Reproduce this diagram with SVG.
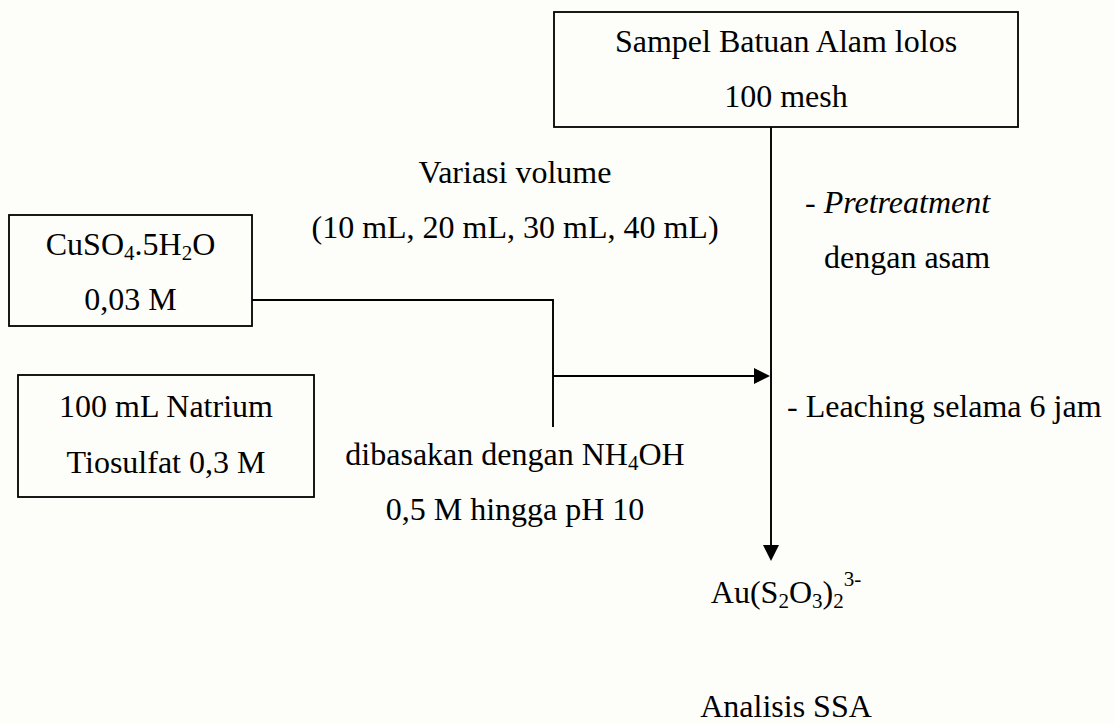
<svg xmlns="http://www.w3.org/2000/svg" width="1114" height="724" viewBox="0 0 1114 724">
  <defs>
    <style>
      .box { fill: none; stroke: #000; stroke-width: 1.8; }
      .conn { fill: none; stroke: #000; stroke-width: 1.9; }
      text { font-family: "Liberation Serif", "Times New Roman", serif; font-size: 32px; fill: #000; }
      .mid { text-anchor: middle; }
    </style>
    <marker id="arrow" markerUnits="userSpaceOnUse" markerWidth="16" markerHeight="16" refX="8" refY="8" orient="auto">
      <path d="M0,0 L16,8 L0,16 Z" fill="#000"/>
    </marker>
  </defs>
  <rect width="1114" height="724" fill="#fdfdf9"/>

  <g id="connectors">
    <path class="conn" d="M252,300 H553 V427"/>
    <path class="conn" d="M553,376 H762" marker-end="url(#arrow)"/>
    <path class="conn" d="M771,127 V553" marker-end="url(#arrow)"/>
  </g>

  <g id="node-sampel">
    <rect class="box" x="554" y="12" width="464" height="115"/>
    <text class="mid" x="786" y="52">Sampel Batuan Alam lolos</text>
    <text class="mid" x="786" y="107">100 mesh</text>
  </g>

  <g id="node-cuso4">
    <rect class="box" x="9" y="215" width="243" height="111"/>
    <text class="mid" x="130.5" y="255">CuSO<tspan font-size="21" dy="5">4</tspan><tspan dy="-5">.5H</tspan><tspan font-size="21" dy="5">2</tspan><tspan dy="-5">O</tspan></text>
    <text class="mid" x="130.5" y="310">0,03 M</text>
  </g>

  <g id="node-natrium">
    <rect class="box" x="18" y="375" width="296" height="122"/>
    <text class="mid" x="166" y="417">100 mL Natrium</text>
    <text class="mid" x="166" y="473">Tiosulfat 0,3 M</text>
  </g>

  <g id="label-variasi">
    <text class="mid" x="515" y="183">Variasi volume</text>
    <text class="mid" x="515" y="238">(10 mL, 20 mL, 30 mL, 40 mL)</text>
  </g>

  <g id="label-pretreatment">
    <text x="805" y="213">- <tspan font-style="italic">Pretreatment</tspan></text>
    <text x="824" y="268">dengan asam</text>
  </g>

  <g id="label-leaching">
    <text x="787" y="417">- Leaching selama 6 jam</text>
  </g>

  <g id="label-dibasakan">
    <text class="mid" x="515" y="465">dibasakan dengan NH<tspan font-size="21" dy="5">4</tspan><tspan dy="-5">OH</tspan></text>
    <text class="mid" x="515" y="520">0,5 M hingga pH 10</text>
  </g>

  <g id="node-au">
    <text class="mid" x="786" y="603">Au(S<tspan font-size="21" dy="5">2</tspan><tspan dy="-5">O</tspan><tspan font-size="21" dy="5">3</tspan><tspan dy="-5">)</tspan><tspan font-size="21" dy="5">2</tspan><tspan font-size="21" dy="-22">3-</tspan></text>
  </g>

  <g id="node-analisis">
    <text class="mid" x="786" y="717">Analisis SSA</text>
  </g>
</svg>
